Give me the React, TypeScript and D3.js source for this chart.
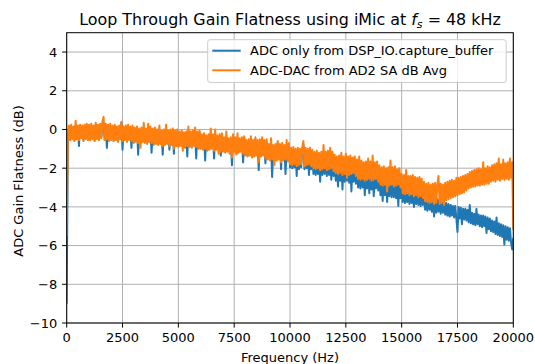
import React from "react";
import * as d3 from "d3";

const W = 535, H = 364;
const M = { left: 66.7, right: 513.3, top: 32.7, bottom: 323 };

const xTicks = [0, 2500, 5000, 7500, 10000, 12500, 15000, 17500, 20000];
const yTicks = [-10, -8, -6, -4, -2, 0, 2, 4];
const seriesNames = ["ADC only from DSP_IO.capture_buffer", "ADC-DAC from AD2 SA dB Avg"];
const colors = ["#1f77b4", "#ff7f0e"];

// 50 Hz bins, 0..20000 Hz (each row = 1 kHz)
const freqStep = 50;

const adcOnlyRows = [
  [-9.0, -0.45, 0.1, -0.5, 0.15, -0.45, 0.05, -0.55, 0.2, -0.45, 0.1, -0.85, 0.15, -0.4, 0.1, -0.55, 0.15, -0.45, 0.2, -0.5],
  [0.15, -0.5, 0.2, -0.45, 0.1, -0.55, 0.25, -0.45, 0.15, -0.5, 0.2, -0.4, 0.3, 0.35, -0.5, 0.2, -0.95, 0.15, -0.55, 0.2],
  [-0.5, 0.1, -0.55, 0.15, -0.5, 0.05, -0.6, 0.1, -0.45, 0.35, -1.05, 0.05, -0.5, 0.1, -0.6, 0.15, -0.5, 0.05, -0.95, 0.1],
  [-0.65, 0.0, -0.6, 0.05, -1.3, -0.05, -0.7, 0.0, -0.6, 0.1, -0.65, -0.05, -0.7, 0.0, -0.6, 0.05, -1.2, -0.05, -0.75, 0.0],
  [-0.7, -0.1, -0.75, -0.05, -0.7, -0.15, -1.3, -0.1, -0.75, 0.0, -0.7, -0.15, -1.05, -0.1, -0.75, -0.05, -1.25, -0.15, -0.8, -0.1],
  [-0.85, -0.2, -0.8, -0.15, -0.85, -0.25, -0.9, -0.2, -1.4, -0.05, -0.85, -0.2, -0.9, -0.15, -0.8, -0.25, -1.5, -0.2, -0.95, -0.15],
  [-0.95, -0.35, -1.0, -0.3, -1.6, -0.4, -1.05, -0.35, -1.0, -0.2, -0.95, -0.35, -1.5, -0.3, -1.0, -0.4, -0.95, -0.35, -1.35, -0.3],
  [-1.1, -0.5, -1.15, -0.45, -1.1, -0.55, -1.2, -0.5, -1.85, -0.35, -1.1, -0.5, -1.25, -0.45, -1.15, -0.55, -1.1, -0.5, -1.7, -0.45],
  [-1.3, -0.65, -1.35, -0.6, -1.3, -0.7, -1.4, -0.65, -1.35, -0.5, -1.3, -0.65, -2.1, -0.6, -1.35, -0.7, -1.3, -0.65, -1.75, -0.6],
  [-1.5, -0.85, -1.55, -0.8, -2.45, -0.9, -1.6, -0.85, -1.55, -0.7, -1.5, -0.85, -2.05, -0.8, -1.55, -0.9, -2.3, -0.85, -1.6, -0.8],
  [-1.95, -1.05, -2.0, -1.1, -1.95, -1.15, -2.4, -1.1, -2.05, -1.15, -1.95, -1.05, -0.8, -2.05, -1.1, -2.0, -1.15, -2.35, -1.1, -2.05],
  [-1.3, -2.3, -1.35, -2.35, -1.3, -2.3, -1.4, -2.7, -1.35, -2.35, -1.25, -2.3, -1.4, -2.4, -1.35, -2.35, -1.45, -2.6, -1.4, -2.4],
  [-1.6, -2.65, -1.7, -2.95, -1.65, -2.65, -1.75, -3.1, -1.7, -2.7, -1.6, -2.65, -1.75, -2.75, -1.7, -3.2, -1.8, -2.7, -1.75, -2.8],
  [-1.9, -3.0, -2.0, -3.05, -1.95, -3.0, -2.05, -3.4, -2.0, -3.05, -1.9, -3.3, -2.05, -3.1, -2.0, -3.45, -2.1, -3.05, -2.05, -3.15],
  [-2.3, -3.4, -2.4, -3.7, -2.35, -3.4, -2.45, -3.75, -2.4, -3.45, -2.3, -3.5, -2.45, -3.5, -2.5, -3.55, -2.55, -3.95, -2.6, -3.55],
  [-3.0, -3.75, -3.05, -3.8, -3.1, -3.75, -3.1, -3.85, -3.15, -3.8, -3.2, -4.0, -3.2, -3.85, -3.25, -3.9, -3.3, -3.95, -3.35, -3.9],
  [-3.4, -4.15, -3.45, -4.2, -3.5, -4.15, -3.55, -4.25, -3.5, -4.5, -3.6, -4.3, -3.6, -4.25, -3.65, -4.35, -3.7, -4.3, -3.7, -4.4],
  [-3.8, -4.45, -3.85, -4.5, -3.9, -4.45, -3.95, -4.55, -3.95, -4.6, -5.3, -4.0, -4.6, -4.05, -4.9, -4.1, -4.65, -4.1, -4.7, -4.15],
  [-4.8, -3.9, -4.85, -4.3, -4.9, -4.35, -4.95, -4.1, -4.9, -4.4, -5.0, -4.45, -5.05, -4.45, -5.0, -4.5, -5.35, -4.55, -5.15, -4.6],
  [-5.25, -4.7, -5.3, -4.75, -5.4, -4.55, -5.45, -4.85, -5.5, -4.9, -5.55, -4.95, -5.95, -5.0, -5.7, -5.05, -5.75, -5.1, -5.85, -6.2],
  [-5.6],
];

const adcDacRows = [
  [-5.5, -0.5, 0.2, -0.55, 0.25, -0.5, 0.15, -0.6, 0.45, -0.5, 0.2, -0.55, 0.25, -0.45, 0.2, -0.6, 0.25, -0.5, 0.3, -0.55],
  [0.25, -0.55, 0.3, -0.5, 0.2, -0.6, 0.35, -0.5, 0.25, -0.55, 0.3, -0.45, 0.4, 0.65, -0.55, 0.3, -0.5, 0.25, -0.6, 0.3],
  [-0.55, 0.2, -0.6, 0.25, -0.55, 0.15, -0.65, 0.2, -0.5, 0.4, -0.6, 0.15, -0.55, 0.2, -0.65, 0.25, -0.55, 0.15, -0.6, 0.2],
  [-0.7, 0.1, -0.65, 0.15, -0.7, 0.05, -0.95, 0.1, -0.65, 0.35, -0.7, 0.05, -0.75, 0.3, -0.65, 0.15, -0.7, 0.05, -0.8, 0.1],
  [-0.75, 0.0, -0.8, 0.2, -0.75, -0.05, -0.85, 0.0, -0.8, 0.25, -0.75, -0.05, -0.85, 0.0, -0.8, 0.05, -1.0, -0.05, -0.85, 0.0],
  [-0.9, -0.1, -0.85, -0.05, -1.1, -0.15, -0.95, -0.1, -0.85, 0.15, -0.9, -0.1, -0.95, -0.05, -0.85, 0.1, -0.9, -0.1, -1.0, -0.05],
  [-1.0, -0.25, -1.05, -0.2, -1.0, -0.3, -1.1, -0.25, -1.05, 0.05, -1.0, -0.25, -1.1, 0.0, -1.05, -0.3, -1.25, -0.25, -1.15, -0.2],
  [-1.15, -0.4, -1.2, -0.1, -1.15, -0.45, -1.25, -0.4, -1.45, -0.25, -1.15, -0.4, -1.3, -0.2, -1.2, -0.45, -1.15, -0.4, -1.25, -0.35],
  [-1.35, -0.55, -1.4, -0.5, -1.35, -0.35, -1.45, -0.55, -1.4, -0.4, -1.35, -0.55, -1.7, -0.5, -1.4, -0.4, -1.35, -0.55, -1.5, -0.5],
  [-1.55, -0.75, -1.6, -0.45, -1.55, -0.8, -1.85, -0.75, -1.6, -0.6, -1.55, -0.75, -1.7, -0.7, -1.6, -0.8, -1.55, -0.55, -1.65, -0.7],
  [-1.8, -0.95, -1.85, -0.9, -1.8, -1.0, -1.9, -0.95, -1.85, -1.0, -1.8, -0.9, -0.6, -1.9, -0.95, -1.85, -1.0, -1.8, -0.95, -1.9],
  [-1.05, -2.0, -1.15, -2.05, -1.1, -2.0, -1.2, -2.1, -1.15, -2.05, -0.8, -2.0, -1.15, -2.1, -1.1, -2.05, -0.95, -2.0, -1.15, -2.15],
  [-1.3, -2.25, -1.4, -2.3, -1.35, -2.25, -1.2, -2.35, -1.4, -2.3, -1.25, -2.5, -1.4, -2.35, -1.35, -2.3, -1.45, -2.25, -1.4, -2.4],
  [-1.55, -2.55, -1.4, -2.6, -1.6, -2.55, -1.7, -2.65, -1.65, -2.6, -1.5, -2.55, -1.65, -2.65, -1.35, -2.6, -1.7, -2.55, -1.65, -2.7],
  [-1.85, -2.85, -1.95, -2.9, -1.9, -2.85, -2.0, -3.2, -1.95, -2.9, -1.6, -2.85, -1.95, -2.95, -1.9, -2.9, -2.05, -2.85, -2.0, -3.0],
  [-2.3, -3.3, -2.35, -3.35, -2.1, -3.3, -2.4, -3.4, -2.4, -3.35, -2.35, -3.45, -2.45, -3.4, -2.5, -3.5, -2.45, -3.45, -2.55, -3.55],
  [-2.7, -3.7, -2.8, -3.75, -2.75, -3.8, -2.85, -3.75, -2.8, -3.85, -2.75, -3.8, -2.85, -2.4, -3.85, -2.8, -3.8, -2.85, -3.9, -2.75],
  [-3.65, -2.7, -3.6, -2.65, -3.55, -2.6, -3.5, -2.65, -3.45, -2.5, -3.4, -2.5, -3.35, -2.45, -3.3, -2.4, -3.25, -2.35, -3.15, -2.3],
  [-3.05, -2.2, -3.0, -2.15, -2.95, -2.1, -2.95, -2.05, -2.9, -2.0, -2.9, -2.05, -2.85, -1.7, -2.85, -2.0, -2.8, -1.9, -2.8, -1.95],
  [-2.7, -1.85, -2.65, -1.8, -2.7, -1.75, -2.6, -1.5, -2.65, -1.8, -2.55, -1.55, -2.6, -1.75, -2.55, -1.7, -2.6, -1.5, -2.5, -1.7],
  [-5.2],
];

const adcOnly: number[] = adcOnlyRows.flat();
const adcDac: number[] = adcDacRows.flat();

const FONT = "DejaVu Sans, sans-serif";

export default function App() {
  const x = d3.scaleLinear().domain([0, 20000]).range([M.left, M.right]);
  const y = d3.scaleLinear().domain([-10, 5]).range([M.bottom, M.top]);
  const line = d3
    .line<number>()
    .x((_, i) => x(i * freqStep))
    .y((d) => y(d));
  const series = [adcOnly, adcDac];
  const midX = (M.left + M.right) / 2;
  const fmtY = (v: number) => (v < 0 ? "\u2212" + Math.abs(v) : String(v));
  const tickLen = 4.6;

  return (
    <svg
      width={W}
      height={H}
      viewBox={`0 0 ${W} ${H}`}
      style={{ position: "absolute", left: 0, top: 0, background: "#fff" }}
      fontFamily={FONT}
    >
      <defs>
        <clipPath id="plotclip">
          <rect x={M.left} y={M.top} width={M.right - M.left} height={M.bottom - M.top} />
        </clipPath>
      </defs>
      <g stroke="#b0b0b0" strokeWidth={1}>
        {xTicks.map((t) => (
          <line key={"gx" + t} x1={x(t)} x2={x(t)} y1={M.top} y2={M.bottom} />
        ))}
        {yTicks.map((t) => (
          <line key={"gy" + t} x1={M.left} x2={M.right} y1={y(t)} y2={y(t)} />
        ))}
      </g>
      <g clipPath="url(#plotclip)">
        {series.map((s, i) => (
          <path
            key={i}
            d={line(s) || ""}
            fill="none"
            stroke={colors[i]}
            strokeWidth={2}
            strokeLinejoin="round"
          />
        ))}
      </g>
      <rect
        x={M.left}
        y={M.top}
        width={M.right - M.left}
        height={M.bottom - M.top}
        fill="none"
        stroke="#000"
        strokeWidth={1}
      />
      <g fontSize={13} textAnchor="middle" fill="#000">
        {xTicks.map((t) => (
          <g key={"xt" + t}>
            <line x1={x(t)} x2={x(t)} y1={M.bottom} y2={M.bottom + tickLen} stroke="#000" strokeWidth={1} />
            <text x={x(t)} y={341.5}>{t}</text>
          </g>
        ))}
      </g>
      <g fontSize={13} textAnchor="end" fill="#000">
        {yTicks.map((t) => (
          <g key={"yt" + t}>
            <line x1={M.left - tickLen} x2={M.left} y1={y(t)} y2={y(t)} stroke="#000" strokeWidth={1} />
            <text x={M.left - 9.5} y={y(t)} dy="0.36em">{fmtY(t)}</text>
          </g>
        ))}
      </g>
      <text x={midX} y={361.5} fontSize={13} textAnchor="middle">Frequency (Hz)</text>
      <text transform={`translate(23, 181) rotate(-90)`} fontSize={13} textAnchor="middle">
        ADC Gain Flatness (dB)
      </text>
      <text x={midX} y={25} fontSize={15.9} textAnchor="middle">
        Loop Through Gain Flatness using iMic at{" "}
        <tspan fontStyle="italic">f</tspan>
        <tspan fontStyle="italic" fontSize={11} dy={3}>s</tspan>
        <tspan dy={-3}> = 48 kHz</tspan>
      </text>
      <g>
        <rect x={207.7} y={39.7} width={298.5} height={42.8} rx={2.5} fill="#fff" fillOpacity={0.8} stroke="#cccccc" strokeWidth={1} />
        {seriesNames.map((n, i) => (
          <g key={n}>
            <line x1={212.3} x2={240.7} y1={50.7 + i * 19.6} y2={50.7 + i * 19.6} stroke={colors[i]} strokeWidth={2} />
            <text x={250} y={50.7 + i * 19.6} dy="0.36em" fontSize={13}>{n}</text>
          </g>
        ))}
      </g>
    </svg>
  );
}
